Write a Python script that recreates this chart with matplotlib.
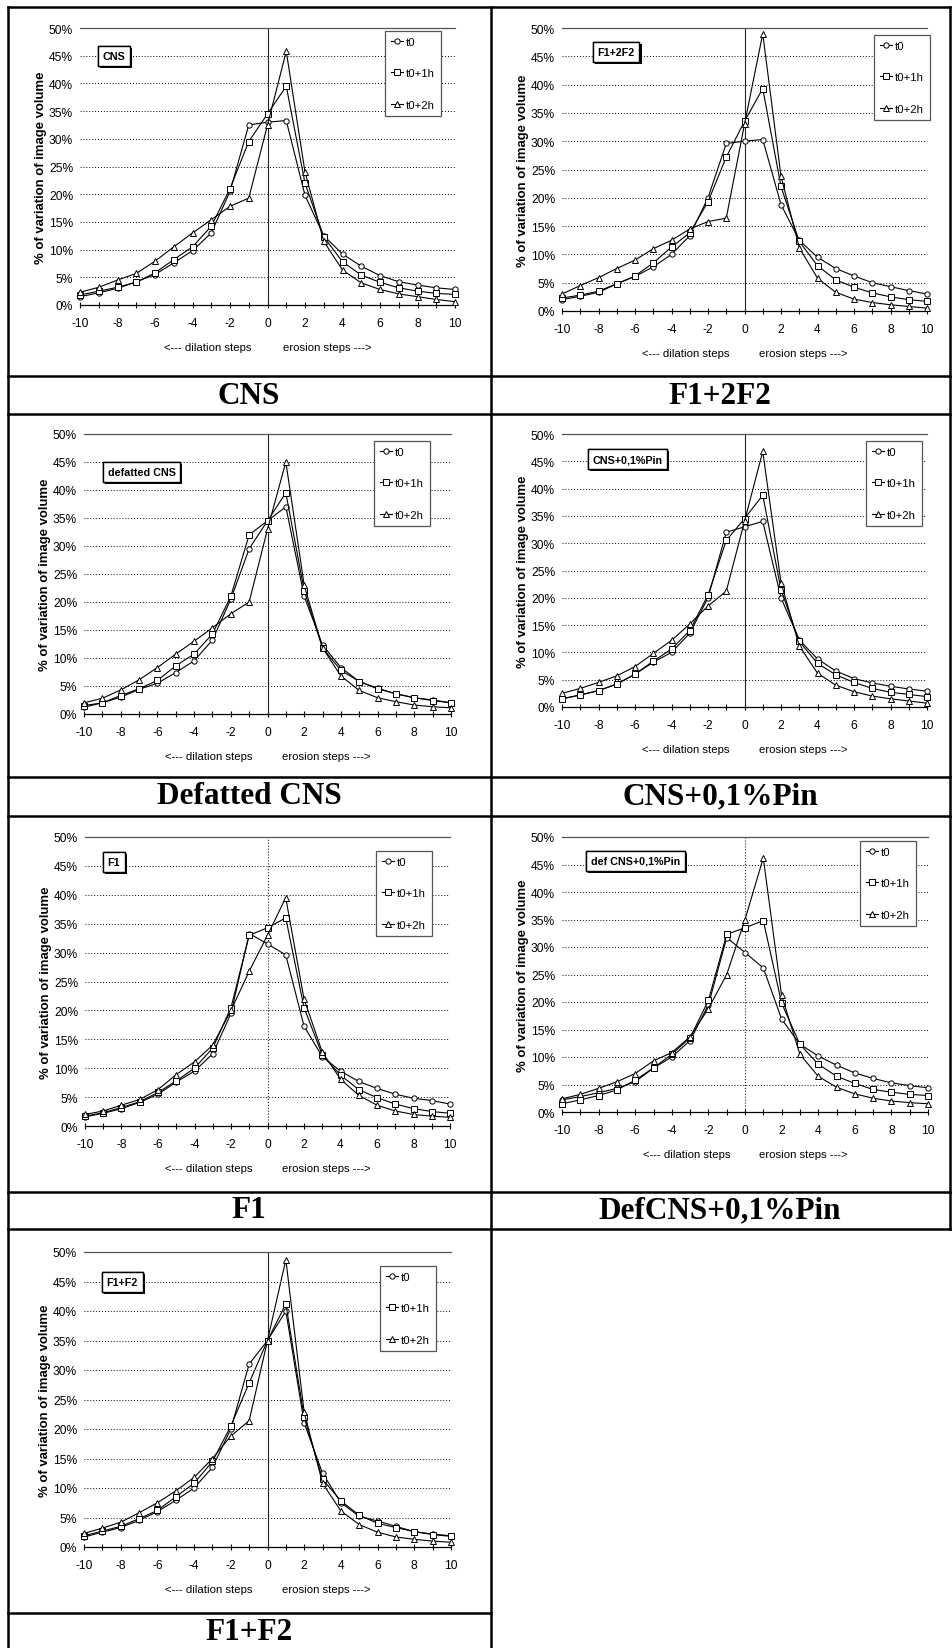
import matplotlib
matplotlib.use('Agg')
import matplotlib.pyplot as plt
from matplotlib import font_manager, patheffects
from matplotlib.lines import Line2D
from matplotlib.ticker import MultipleLocator, FuncFormatter

# x categories: dilation (negative) / erosion (positive) steps
steps = [-10, -9, -8, -7, -6, -5, -4, -3, -2, -1, 0, 1, 2, 3, 4, 5, 6, 7, 8, 9, 10]
series_labels = ['t0', 't0+1h', 't0+2h']

# CNS
cns_t0 = [1.5, 2.2, 3.0, 4.2, 5.5, 7.6, 9.8, 13.0, 20.5, 32.5, 33.0, 33.3, 19.8, 12.5, 9.2, 7.0, 5.3, 4.2, 3.6, 3.1, 2.8]
cns_t1 = [1.8, 2.5, 3.2, 4.1, 5.8, 8.2, 10.5, 14.2, 21.0, 29.5, 34.5, 39.5, 22.0, 12.3, 7.8, 5.4, 4.1, 3.1, 2.5, 2.1, 1.9]
cns_t2 = [2.3, 3.2, 4.5, 5.7, 7.9, 10.5, 13.0, 15.4, 17.8, 19.3, 32.5, 45.8, 24.0, 11.5, 6.3, 4.0, 2.8, 2.0, 1.5, 1.0, 0.6]

# F1+2F2
f12f2_t0 = [2.0, 2.6, 3.3, 4.8, 6.1, 7.8, 10.0, 13.3, 20.0, 29.6, 30.0, 30.3, 18.8, 12.5, 9.5, 7.5, 6.2, 5.0, 4.3, 3.6, 3.0]
f12f2_t1 = [2.3, 2.8, 3.5, 4.8, 6.2, 8.5, 11.3, 13.8, 19.3, 27.2, 33.5, 39.3, 22.0, 12.3, 8.0, 5.5, 4.2, 3.2, 2.5, 2.0, 1.7]
f12f2_t2 = [3.0, 4.5, 5.9, 7.5, 9.0, 11.0, 12.5, 14.5, 15.8, 16.4, 33.0, 49.0, 23.8, 11.2, 5.8, 3.3, 2.1, 1.5, 1.1, 0.8, 0.5]

# Defatted CNS
dcns_t0 = [1.2, 2.0, 3.0, 4.4, 5.5, 7.4, 9.5, 13.2, 20.5, 29.5, 34.5, 37.0, 21.0, 12.3, 8.3, 5.8, 4.6, 3.6, 2.9, 2.5, 2.0]
dcns_t1 = [1.5, 2.0, 3.3, 4.5, 6.0, 8.6, 10.7, 14.3, 21.0, 32.0, 34.5, 39.5, 22.0, 11.8, 7.8, 5.8, 4.5, 3.6, 2.9, 2.4, 2.0]
dcns_t2 = [2.0, 2.8, 4.3, 6.1, 8.3, 10.7, 13.0, 15.4, 17.9, 20.0, 33.0, 45.0, 23.0, 11.8, 6.8, 4.2, 2.9, 2.2, 1.6, 1.3, 1.1]

# CNS+0,1%Pin
cpin_t0 = [1.5, 2.2, 3.0, 4.2, 6.0, 8.2, 10.0, 13.5, 20.0, 32.0, 33.0, 34.0, 20.0, 12.3, 8.8, 6.6, 5.2, 4.4, 3.8, 3.3, 2.9]
cpin_t1 = [1.5, 2.2, 3.0, 4.2, 6.0, 8.4, 10.6, 14.0, 20.5, 30.5, 34.5, 38.8, 21.5, 12.0, 8.0, 5.9, 4.5, 3.4, 2.7, 2.3, 1.9]
cpin_t2 = [2.5, 3.4, 4.5, 5.7, 7.4, 9.8, 12.2, 15.2, 18.5, 21.2, 34.0, 46.8, 22.8, 11.2, 6.2, 4.0, 2.8, 2.0, 1.5, 1.1, 0.7]

# F1
f1_t0 = [1.6, 2.2, 3.0, 4.1, 5.5, 7.6, 9.5, 12.5, 19.5, 33.3, 31.5, 29.6, 17.3, 12.0, 9.5, 7.7, 6.5, 5.5, 4.8, 4.4, 3.8]
f1_t1 = [1.7, 2.3, 3.2, 4.2, 5.8, 7.8, 10.0, 13.5, 20.5, 33.0, 34.3, 36.0, 20.5, 12.3, 8.8, 6.3, 4.9, 3.8, 3.0, 2.5, 2.2]
f1_t2 = [2.0, 2.6, 3.6, 4.6, 6.3, 8.9, 11.1, 14.0, 20.0, 26.8, 33.0, 39.5, 22.0, 12.8, 8.1, 5.3, 3.6, 2.6, 2.0, 1.7, 1.5]

# DefCNS+0,1%Pin
dpin_t0 = [2.2, 2.8, 3.5, 4.3, 5.5, 8.0, 10.0, 13.0, 19.5, 31.7, 29.0, 26.2, 16.9, 12.3, 10.2, 8.5, 7.1, 6.1, 5.3, 4.8, 4.4]
dpin_t1 = [1.5, 2.2, 3.0, 4.0, 5.8, 8.0, 10.5, 13.5, 20.3, 32.3, 33.5, 34.8, 19.8, 12.3, 8.7, 6.5, 5.2, 4.1, 3.6, 3.2, 3.0]
dpin_t2 = [2.4, 3.2, 4.3, 5.5, 7.0, 9.3, 10.8, 13.7, 18.8, 25.0, 35.0, 46.2, 21.2, 10.5, 6.5, 4.5, 3.3, 2.5, 2.0, 1.7, 1.5]

# F1+F2
f1f2_t0 = [1.7, 2.5, 3.3, 4.5, 6.0, 7.9, 10.0, 13.5, 20.0, 31.0, 35.0, 40.0, 21.0, 12.5, 7.5, 5.2, 4.4, 3.5, 2.6, 2.2, 1.9]
f1f2_t1 = [1.9, 2.7, 3.5, 4.8, 6.2, 8.5, 10.8, 14.5, 20.5, 27.8, 35.0, 41.2, 22.0, 11.5, 7.8, 5.4, 4.0, 3.3, 2.6, 2.1, 1.8]
f1f2_t2 = [2.3, 3.2, 4.2, 5.8, 7.5, 9.5, 11.8, 15.0, 18.8, 21.4, 35.0, 48.7, 22.8, 10.8, 6.1, 3.8, 2.5, 1.7, 1.3, 1.0, 0.8]

plt.rcParams['axes.unicode_minus'] = False

W, H = 952, 1649
fig = plt.figure(figsize=(W / 100, H / 100), dpi=100)

names = {f.name for f in font_manager.fontManager.ttflist}
if 'Liberation Sans Narrow' in names:
    sans, k = 'Liberation Sans Narrow', 1.0
else:
    sans, k = 'Liberation Sans', 0.82


def px_axes(l, t, r, b):
    return fig.add_axes([l / W, 1 - b / H, (r - l) / W, (b - t) / H])


def draw_panel(ax, series, box_text, box_pos, leg_pos, center_ls):
    markers = ['o', 's', '^']
    for vals, lab, m in zip(series, series_labels, markers):
        ax.plot(steps, vals, color='black', lw=0.8, marker=m, ms=3.8,
                mfc='white', mec='black', mew=0.7, label=lab, clip_on=False, zorder=3)
    ax.set_xlim(-10, 10)
    ax.set_ylim(0, 50)
    ax.yaxis.set_major_locator(MultipleLocator(5))
    ax.yaxis.set_major_formatter(FuncFormatter(lambda v, p: f'{v:.0f}%'))
    ax.xaxis.set_major_locator(MultipleLocator(2))
    ax.xaxis.set_minor_locator(MultipleLocator(1))
    ax.grid(axis='y', color='black', ls=(0, (1, 2)), lw=0.7)
    ax.axvline(0, color='#222222', lw=0.8, ls=center_ls, zorder=2)
    for s in ['left', 'right']:
        ax.spines[s].set_visible(False)
    ax.spines['top'].set_color('#555555')
    ax.spines['top'].set_linewidth(0.9)
    ax.spines['bottom'].set_linewidth(0.9)
    ax.tick_params(axis='y', length=0, pad=5)
    ax.tick_params(axis='x', which='both', direction='inout', length=5, width=0.8, pad=6)
    for t in ax.get_xticklabels() + ax.get_yticklabels():
        t.set_fontfamily(sans)
        t.set_fontsize(10.5 * k)
    ax.set_ylabel('% of variation of image volume', fontfamily=sans,
                  fontweight='bold', fontsize=11.5 * k)
    ax.yaxis.set_label_coords(-33 / ax.bbox.width, 0.5)

    ax.annotate('<--- dilation steps', xy=(-3.2, 0), xycoords=('data', 'axes fraction'),
                xytext=(0, -30), textcoords='offset points', ha='center', va='center',
                fontfamily=sans, fontsize=10 * k)
    ax.annotate('erosion steps --->', xy=(3.2, 0), xycoords=('data', 'axes fraction'),
                xytext=(0, -30), textcoords='offset points', ha='center', va='center',
                fontfamily=sans, fontsize=10 * k)

    # boxed sample name in the plot area
    t = ax.annotate(box_text, xy=box_pos, xycoords='axes fraction', xytext=(4, 0),
                    textcoords='offset points', ha='left', va='center',
                    fontfamily=sans, fontweight='bold', fontsize=9.5 * k, zorder=5,
                    bbox=dict(boxstyle='square,pad=0.45', fc='white', ec='black', lw=1.0))
    t.get_bbox_patch().set_path_effects([
        patheffects.withSimplePatchShadow(offset=(1.5, -1.5), shadow_rgbFace='black', alpha=1.0),
        patheffects.Normal()])

    leg = ax.legend(loc='upper left', bbox_to_anchor=leg_pos, frameon=True, fancybox=False,
                    edgecolor='#555555', framealpha=1, borderpad=0.5, handlelength=1.1,
                    handletextpad=0.25, labelspacing=1.9, borderaxespad=0, numpoints=1,
                    prop={'family': sans, 'size': 10 * k})
    leg.get_frame().set_linewidth(0.9)
    leg.set_zorder(6)


panels = [
    ((80, 29, 455, 306), [cns_t0, cns_t1, cns_t2], 'CNS', (0.045, 0.90), (0.813, 0.989), '-'),
    ((562, 29, 927, 312), [f12f2_t0, f12f2_t1, f12f2_t2], 'F1+2F2', (0.082, 0.915), (0.855, 0.975), '-'),
    ((84, 435, 451, 715), [dcns_t0, dcns_t1, dcns_t2], 'defatted CNS', (0.049, 0.864), (0.79, 0.975), '-'),
    ((562, 435, 927, 708), [cpin_t0, cpin_t1, cpin_t2], 'CNS+0,1%Pin', (0.068, 0.908), (0.833, 0.974), '-'),
    ((85, 838, 450, 1127), [f1_t0, f1_t1, f1_t2], 'F1', (0.047, 0.913), (0.797, 0.952), ':'),
    ((562, 838, 928, 1113), [dpin_t0, dpin_t1, dpin_t2], 'def CNS+0,1%Pin', (0.063, 0.913), (0.814, 0.985), ':'),
    ((84, 1253, 451, 1548), [f1f2_t0, f1f2_t1, f1f2_t2], 'F1+F2', (0.046, 0.898), (0.807, 0.953), '-'),
]

for rect, series, box_text, box_pos, leg_pos, cls in panels:
    ax = px_axes(*rect)
    draw_panel(ax, series, box_text, box_pos, leg_pos, cls)

# table captions
captions = [('CNS', 249, 396), ('F1+2F2', 720, 396),
            ('Defatted CNS', 249, 797), ('CNS+0,1%Pin', 720, 797),
            ('F1', 249, 1211), ('DefCNS+0,1%Pin', 720, 1211),
            ('F1+F2', 249, 1633)]
for txt, x, y in captions:
    fig.text(x / W, 1 - y / H, txt, ha='center', va='center',
             fontfamily='Liberation Serif', fontweight='bold', fontsize=22.5)


# table frame
def tline(x0, y0, x1, y1):
    fig.add_artist(Line2D([x0 / W, x1 / W], [1 - y0 / H, 1 - y1 / H], color='black', lw=1.8))


tline(8, 8, 950, 8)
for y in [377, 415, 778, 817, 1193, 1230]:
    tline(8, y, 950, y)
tline(8, 1614, 491, 1614)
tline(8, 8, 8, H)
tline(491, 8, 491, H)
tline(950, 8, 950, 1230)

fig.savefig('out.png', dpi=100)
